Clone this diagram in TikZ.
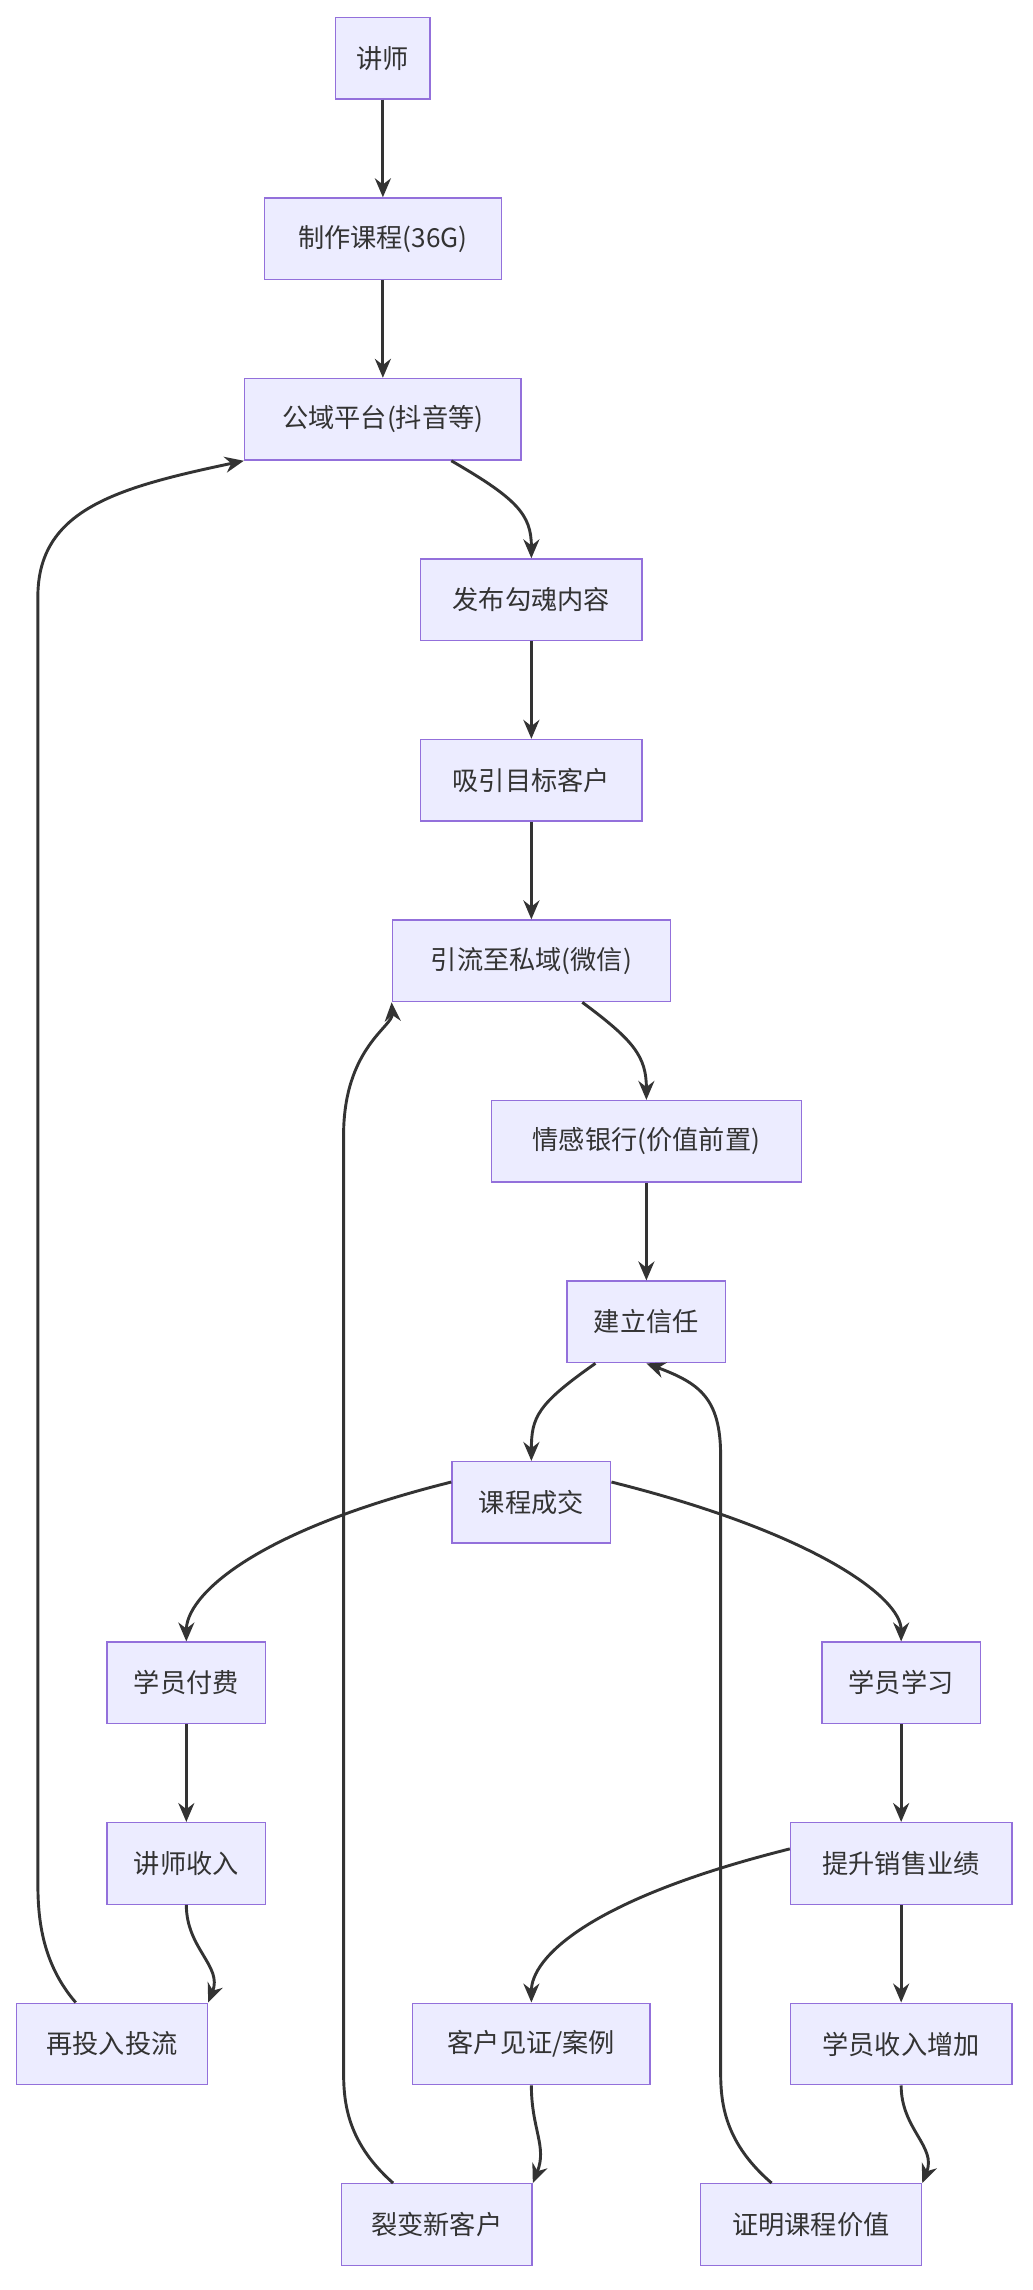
\documentclass[tikz,border=0pt]{standalone}
\usepackage{fontspec}
\setmainfont{Noto Sans CJK SC}
\usetikzlibrary{arrows.meta}
\definecolor{nf}{HTML}{ECECFF}
\definecolor{nb}{HTML}{9370DB}
\definecolor{ln}{HTML}{333333}
\begin{document}
\begin{tikzpicture}[x=1pt,y=-1pt,
 box/.style={draw=nb,fill=nf,line width=1pt,minimum height=56pt,inner xsep=12pt,font=\fontsize{18}{20}\selectfont,text=ln},
 e/.style={draw=ln,line width=2pt,-{Stealth[length=13pt,width=11pt]}}]
\useasboundingbox (0,0) rectangle (709,1573);
\node[box,minimum width=65pt] (a) at (263,40) {讲师};
\node[box,minimum width=163pt] (b) at (263,164) {制作课程(36G)};
\node[box,minimum width=190pt] (c) at (263,288) {公域平台(抖音等)};
\node[box,minimum width=152pt] (d) at (365,412) {发布勾魂内容};
\node[box,minimum width=152pt] (f) at (365,536) {吸引目标客户};
\node[box,minimum width=191pt] (g) at (365,660) {引流至私域(微信)};
\node[box,minimum width=213pt] (h) at (444,784) {情感银行(价值前置)};
\node[box,minimum width=109pt] (i) at (444,908) {建立信任};
\node[box,minimum width=109pt] (j) at (365,1032) {课程成交};
\node[box,minimum width=109pt] (k) at (128,1156) {学员付费};
\node[box,minimum width=109pt] (l) at (619,1156) {学员学习};
\node[box,minimum width=109pt] (m) at (128,1280) {讲师收入};
\node[box,minimum width=152pt] (n) at (619,1280) {提升销售业绩};
\node[box,minimum width=131pt] (o) at (77,1404) {再投入投流};
\node[box,minimum width=163pt] (p) at (365,1404) {客户见证/案例};
\node[box,minimum width=152pt] (q) at (619,1404) {学员收入增加};
\node[box,minimum width=131pt] (r) at (300,1528) {裂变新客户};
\node[box,minimum width=152pt] (s) at (557,1528) {证明课程价值};
\draw[e] (a) -- (b);
\draw[e] (b) -- (c);
\draw[e] (c.south)++(47,0) .. controls +(45,26) and +(0,-30) .. (d.north);
\draw[e] (d) -- (f);
\draw[e] (f) -- (g);
\draw[e] (g.south)++(35,0) .. controls +(35,26) and +(0,-30) .. (h.north);
\draw[e] (h) -- (i);
\draw[e] (i.south)++(-35,0) .. controls +(-40,28) and +(0,-30) .. (j.north);
\draw[e] (j.west)++(0,-14) .. controls +(-140,35) and +(0,-30) .. (k.north);
\draw[e] (j.east)++(0,-14) .. controls +(140,35) and +(0,-30) .. (l.north);
\draw[e] (k) -- (m);
\draw[e] (l) -- (n);
\draw[e] (m.south) .. controls +(0,30) and +(10,-25) .. (o.north east);
\draw[e] (n.west)++(0,-10) .. controls +(-140,35) and +(0,-30) .. (p.north);
\draw[e] (n) -- (q);
\draw[e] (p.south) .. controls +(0,30) and +(10,-25) .. (r.north east);
\draw[e] (q.south) .. controls +(0,30) and +(10,-25) .. (s.north east);
\draw[e] (o.north)++(-25,0) .. controls +(-26,-30) and +(0,20) .. (26,1290) -- (26,410) .. controls (26,350) and (80,335) .. (c.south west);
\draw[e] (r.north)++(-30,0) .. controls +(-34,-30) and +(0,20) .. (236,1420) -- (236,780) .. controls (236,720) and (270,705) .. (g.south west);
\draw[e] (s.north)++(-27,0) .. controls +(-35,-30) and +(0,20) .. (495,1420) -- (495,1000) .. controls (495,960) and (480,950) .. (i.south);
\end{tikzpicture}
\end{document}
